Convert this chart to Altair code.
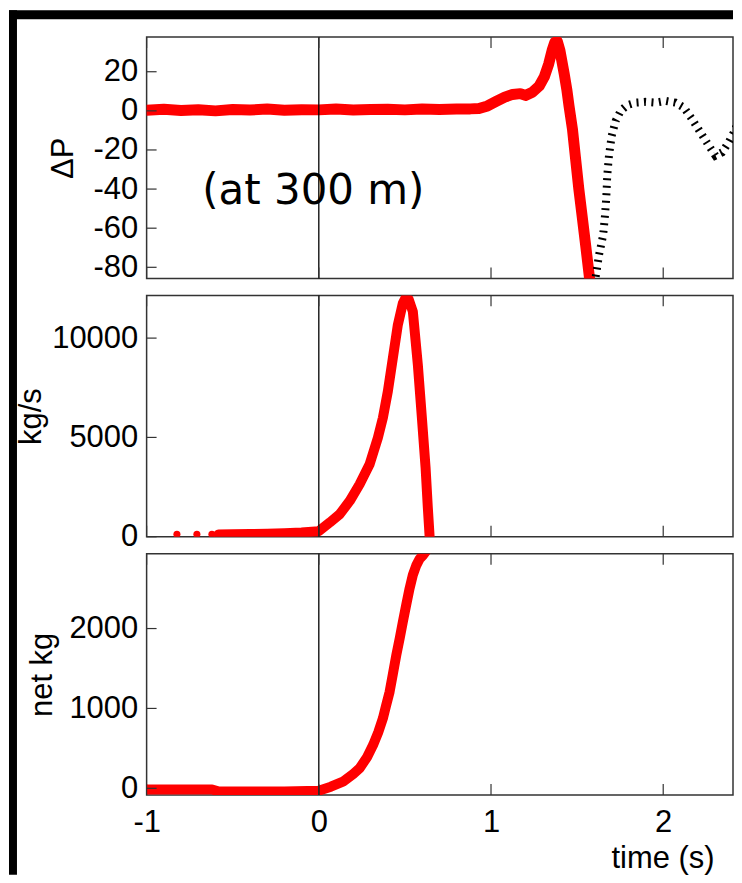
import altair as alt
import pandas as pd

# ---------------- data ----------------
# Panel 1: ΔP, red trace
dp_time = [-1.0, -0.9, -0.8, -0.7, -0.6, -0.5, -0.4, -0.3, -0.2, -0.1, 0.0, 0.1, 0.2,
           0.3, 0.4, 0.5, 0.6, 0.7, 0.8, 0.88, 0.93, 0.98, 1.03, 1.08, 1.125, 1.17,
           1.2, 1.24, 1.28, 1.31, 1.335, 1.355, 1.37, 1.385, 1.4, 1.425, 1.44, 1.453,
           1.473, 1.49, 1.51, 1.53, 1.55, 1.57, 1.59, 1.61]
dp_value = [0.3, 0.8, 0.2, 0.6, 0.0, 0.7, 0.4, 0.9, 0.3, 0.6, 0.5, 0.9, 0.4,
            0.7, 0.8, 0.5, 0.9, 0.7, 0.9, 1.0, 1.2, 2.5, 4.8, 7.0, 8.4, 8.8,
            7.9, 9.5, 12.7, 17.5, 24.0, 31.0, 35.0, 35.5, 31.0, 19.0, 11.0, 2.5,
            -9.4, -23.5, -40.0, -54.5, -69.0, -84.0, -99.0, -114.0]
# Panel 1: ΔP, black dotted continuation
dp2_time = [1.608, 1.627, 1.651, 1.662, 1.670, 1.675, 1.685, 1.701, 1.724, 1.753,
            1.791, 1.840, 1.898, 1.956, 2.014, 2.071, 2.120, 2.168, 2.216, 2.265,
            2.303, 2.342, 2.380, 2.420, 2.448]
dp2_value = [-84.8, -73.8, -63.6, -53.4, -43.3, -33.1, -22.9, -12.7, -5.1, 0.0,
             2.9, 4.2, 4.6, 4.2, 5.1, 4.2, 1.7, -4.3, -11.0, -17.8,
             -22.9, -21.2, -16.1, -9.4, 2.5]

# Panel 2: kg/s
flux_dot_time = [-0.824, -0.708, -0.621]
flux_dot_value = [120, 120, 125]
flux_time = [-0.583, -0.5, -0.4, -0.3, -0.2, -0.1, 0.0, 0.064, 0.122, 0.18, 0.237,
             0.295, 0.343, 0.372, 0.401, 0.43, 0.459, 0.488, 0.505, 0.522, 0.546,
             0.575, 0.6, 0.62, 0.633, 0.645, 0.655]
flux_value = [110, 120, 135, 150, 175, 210, 280, 719, 1139, 1806, 2644,
              3648, 4983, 5986, 7326, 8997, 10672, 11756, 12050, 11950, 11340,
              8665, 5820, 3477, 1470, -200, -600]

# Panel 3: net kg
net_time = [-1.0, -0.8, -0.62, -0.58, -0.4, -0.2, 0.0, 0.07, 0.14, 0.2, 0.237, 0.28,
            0.315, 0.345, 0.372, 0.39, 0.411, 0.43, 0.45, 0.47, 0.488, 0.508, 0.527,
            0.546, 0.566, 0.585, 0.604, 0.63]
net_value = [-15, -15, -15, -40, -40, -40, -30, 20, 83, 180, 250, 390,
             541, 700, 875, 1030, 1207, 1430, 1666, 1880, 2083, 2300, 2500,
             2670, 2791, 2870, 2916, 2990]

x_tick_values = [-1, 0, 1, 2]
dp_tick_values = [20, 0, -20, -40, -60, -80]
flux_tick_values = [0, 5000, 10000]
net_tick_values = [0, 1000, 2000]

annotation_text = ["(at 300 m)"]
annotation_time = [-0.032]
annotation_value = [-41.1]

# ---------------- styling ----------------
W, H = 588, 242
XDOM = [-1, 2.4053]
FONT = "Liberation Sans"
FS = 31
RED = "#ff0000"
FRAME = "#333333"
LABEL_EXPR = "'' + datum.value"


def xenc(show):
    if show:
        ax = alt.Axis(values=x_tick_values, ticks=False, domain=False, grid=False,
                      labelFont=FONT, labelFontSize=FS, labelColor="black",
                      labelPadding=13, labelFlush=False, labelOverlap=False,
                      labelExpr=LABEL_EXPR,
                      title="time (s)", titleFont=FONT, titleFontSize=FS,
                      titleFontWeight="normal", titleColor="black",
                      titleX=569, titleY=73, titleAlign="right",
                      titleBaseline="alphabetic")
    else:
        ax = None
    return alt.X("t:Q", scale=alt.Scale(domain=XDOM, nice=False, zero=False), axis=ax)


def yenc(domain, ticks, title, title_x):
    return alt.Y("v:Q", scale=alt.Scale(domain=domain, nice=False, zero=False),
                 axis=alt.Axis(values=ticks, ticks=False, domain=False, grid=False,
                               labelFont=FONT, labelFontSize=FS, labelColor="black",
                               labelPadding=9, labelFlush=False, labelOverlap=False,
                               labelExpr=LABEL_EXPR,
                               title=title, titleFont=FONT, titleFontSize=FS,
                               titleFontWeight="normal", titleColor="black",
                               titleX=title_x, titleY=H / 2, titleAngle=270,
                               titleAlign="center", titleBaseline="middle"))


def frame_layers(show_x, y_ticks, ydef):
    xt = pd.DataFrame({"t": x_tick_values})
    zero = alt.Chart(pd.DataFrame({"t": [0]})).mark_rule(
        color="black", strokeWidth=1.3).encode(x=xenc(show_x))
    top = alt.Chart(xt).mark_rule(color=FRAME, strokeWidth=1.2).encode(
        x=xenc(show_x), y=alt.value(0), y2=alt.value(11))
    bot = alt.Chart(xt).mark_rule(color=FRAME, strokeWidth=1.2).encode(
        x=xenc(show_x), y=alt.value(H - 11), y2=alt.value(H))
    left = alt.Chart(pd.DataFrame({"v": y_ticks})).mark_rule(
        color=FRAME, strokeWidth=1.2).encode(y=ydef, x=alt.value(0), x2=alt.value(10))
    return [zero, top, bot, left]


def red_line(df, ydef, show_x, width=10):
    return alt.Chart(df).mark_line(color=RED, strokeWidth=width, clip=True,
                                   strokeCap="round", strokeJoin="round").encode(
        x=xenc(show_x), y=ydef, order="t:Q")


# ---- Panel 1: ΔP
y1 = yenc([-85.7, 37.7], dp_tick_values, "ΔP", -83)
df1 = pd.DataFrame({"t": dp_time, "v": dp_value})
df1b = pd.DataFrame({"t": dp2_time, "v": dp2_value})
dotted = alt.Chart(df1b).mark_line(color="black", strokeWidth=8, strokeDash=[2, 5.5],
                                   clip=True, strokeCap="butt").encode(
    x=xenc(False), y=y1, order="t:Q")
ann = alt.Chart(pd.DataFrame({"t": annotation_time, "v": annotation_value,
                              "label": annotation_text})).mark_text(
    font="DejaVu Sans", fontSize=42, color="black", align="center",
    baseline="middle").encode(x=xenc(False), y=y1, text="label:N")
p1 = alt.layer(red_line(df1, y1, False, 11), dotted,
               *frame_layers(False, dp_tick_values, y1), ann).properties(width=W, height=H)

# ---- Panel 2: kg/s
y2 = yenc([0, 12150], flux_tick_values, "kg/s", -115)
df2 = pd.DataFrame({"t": flux_time, "v": flux_value})
df2d = pd.DataFrame({"t": flux_dot_time, "v": flux_dot_value})
dots = alt.Chart(df2d).mark_circle(color=RED, opacity=1, size=50, clip=True).encode(
    x=xenc(False), y=y2)
p2 = alt.layer(red_line(df2, y2, False), dots, *frame_layers(False, flux_tick_values, y2)
               ).properties(width=W, height=H)

# ---- Panel 3: net kg  (+ the black picture frame, left and top edges)
y3 = yenc([-84, 2937], net_tick_values, "net kg", -104)
df3 = pd.DataFrame({"t": net_time, "v": net_value})
one = pd.DataFrame({"k": [0]})
band_left = alt.Chart(one).mark_rect(color="black").encode(
    x=alt.value(-138), x2=alt.value(-130), y=alt.value(-545), y2=alt.value(322))
band_top = alt.Chart(one).mark_rect(color="black").encode(
    x=alt.value(-138), x2=alt.value(W), y=alt.value(-545), y2=alt.value(-536))
p3 = alt.layer(red_line(df3, y3, True), *frame_layers(True, net_tick_values, y3),
               band_left, band_top).properties(width=W, height=H)

chart = alt.vconcat(p1, p2, p3, spacing=17, bounds="flush").properties(
    padding=0, background="white"
).configure_view(stroke=FRAME, strokeWidth=1.5)

chart.save("out.html", embed_options={"renderer": "svg", "actions": False})
